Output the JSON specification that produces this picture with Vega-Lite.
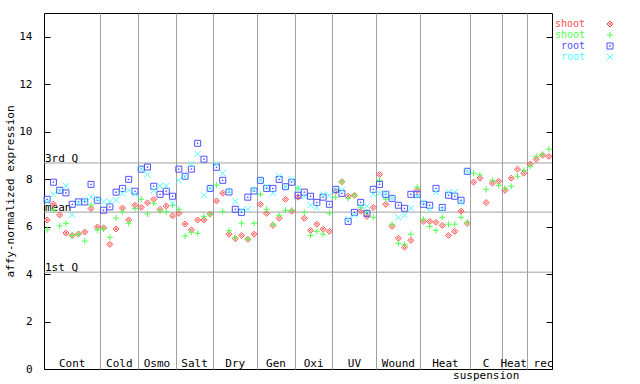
{
  "$schema": "https://vega.github.io/schema/vega-lite/v6.json",
  "width": 508,
  "height": 356,
  "autosize": "none",
  "padding": {"left": 44, "top": 13, "right": 88, "bottom": 15},
  "background": "white",
  "config": {
    "view": {"stroke": "#000", "strokeWidth": 1},
    "font": "DejaVu Sans Mono",
    "axis": {
      "labelFont": "DejaVu Sans Mono", "labelFontSize": 11, "labelColor": "#000",
      "titleFont": "DejaVu Sans Mono", "titleFontSize": 11, "titleFontWeight": "normal", "titleColor": "#000",
      "domainColor": "#000", "tickColor": "#000"
    },
    "legend": {"labelFont": "DejaVu Sans Mono", "labelFontSize": 10}
  },
  "datasets": {
    "stats": [
      {"stat": "3rd Q", "value": 8.68},
      {"stat": "mean", "value": 6.61},
      {"stat": "1st Q", "value": 4.08}
    ],
    "samples": [
      {"s": 1, "g": "Cont", "shoot_a": 6.28, "shoot_b": 5.87, "root_a": 7.15, "root_b": 7.05},
      {"s": 2, "g": "Cont", "shoot_a": 6.95, "shoot_b": 6.70, "root_a": 7.87, "root_b": 7.36},
      {"s": 3, "g": "Cont", "shoot_a": 6.49, "shoot_b": 6.03, "root_a": 7.53, "root_b": 7.50},
      {"s": 4, "g": "Cont", "shoot_a": 5.73, "shoot_b": 6.14, "root_a": 7.42, "root_b": 7.71},
      {"s": 5, "g": "Cont", "shoot_a": 5.63, "shoot_b": 5.63, "root_a": 6.94, "root_b": 6.49},
      {"s": 6, "g": "Cont", "shoot_a": 5.69, "shoot_b": 5.68, "root_a": 7.04, "root_b": 7.00},
      {"s": 7, "g": "Cont", "shoot_a": 5.77, "shoot_b": 5.39, "root_a": 7.04, "root_b": 7.12},
      {"s": 8, "g": "Cont", "shoot_a": 6.76, "shoot_b": 6.91, "root_a": 7.78, "root_b": 7.25},
      {"s": 9, "g": "Cont", "shoot_a": 5.98, "shoot_b": 5.86, "root_a": 7.11, "root_b": 7.15},
      {"s": 10, "g": "Cold", "shoot_a": 5.95, "shoot_b": 5.90, "root_a": 6.69, "root_b": 7.05},
      {"s": 11, "g": "Cold", "shoot_a": 5.25, "shoot_b": 5.55, "root_a": 6.83, "root_b": 7.05},
      {"s": 12, "g": "Cold", "shoot_a": 5.90, "shoot_b": 6.36, "root_a": 7.45, "root_b": 7.11},
      {"s": 13, "g": "Cold", "shoot_a": 6.78, "shoot_b": 6.62, "root_a": 7.61, "root_b": 7.40},
      {"s": 14, "g": "Cold", "shoot_a": 6.28, "shoot_b": 6.14, "root_a": 7.99, "root_b": 7.53},
      {"s": 15, "g": "Cold", "shoot_a": 6.90, "shoot_b": 6.76, "root_a": 7.49, "root_b": 7.36},
      {"s": 16, "g": "Osmo", "shoot_a": 6.81, "shoot_b": 7.15, "root_a": 8.42, "root_b": 8.42},
      {"s": 17, "g": "Osmo", "shoot_a": 7.00, "shoot_b": 6.53, "root_a": 8.51, "root_b": 8.20},
      {"s": 18, "g": "Osmo", "shoot_a": 7.15, "shoot_b": 6.98, "root_a": 7.70, "root_b": 7.53},
      {"s": 19, "g": "Osmo", "shoot_a": 6.73, "shoot_b": 6.66, "root_a": 7.36, "root_b": 7.71},
      {"s": 20, "g": "Osmo", "shoot_a": 6.87, "shoot_b": 6.62, "root_a": 7.49, "root_b": 7.71},
      {"s": 21, "g": "Osmo", "shoot_a": 6.45, "shoot_b": 6.90, "root_a": 7.28, "root_b": 6.98},
      {"s": 22, "g": "Salt", "shoot_a": 6.56, "shoot_b": 6.73, "root_a": 8.42, "root_b": 7.95},
      {"s": 23, "g": "Salt", "shoot_a": 6.11, "shoot_b": 5.60, "root_a": 8.12, "root_b": 8.10},
      {"s": 24, "g": "Salt", "shoot_a": 5.86, "shoot_b": 5.76, "root_a": 8.42, "root_b": 8.63},
      {"s": 25, "g": "Salt", "shoot_a": 6.28, "shoot_b": 5.72, "root_a": 9.51, "root_b": 9.06},
      {"s": 26, "g": "Salt", "shoot_a": 6.28, "shoot_b": 6.43, "root_a": 8.84, "root_b": 7.32},
      {"s": 27, "g": "Salt", "shoot_a": 6.53, "shoot_b": 6.52, "root_a": 7.61, "root_b": 7.61},
      {"s": 28, "g": "Dry", "shoot_a": 7.08, "shoot_b": 7.75, "root_a": 8.50, "root_b": 8.63},
      {"s": 29, "g": "Dry", "shoot_a": 7.41, "shoot_b": 6.64, "root_a": 7.95, "root_b": 8.25},
      {"s": 30, "g": "Dry", "shoot_a": 5.68, "shoot_b": 5.83, "root_a": 7.46, "root_b": 7.50},
      {"s": 31, "g": "Dry", "shoot_a": 5.49, "shoot_b": 5.53, "root_a": 6.73, "root_b": 7.07},
      {"s": 32, "g": "Dry", "shoot_a": 5.63, "shoot_b": 6.14, "root_a": 6.60, "root_b": 6.69},
      {"s": 33, "g": "Dry", "shoot_a": 5.47, "shoot_b": 5.47, "root_a": 7.24, "root_b": 6.73},
      {"s": 34, "g": "Dry", "shoot_a": 5.68, "shoot_b": 6.14, "root_a": 7.50, "root_b": 7.55},
      {"s": 35, "g": "Gen", "shoot_a": 6.94, "shoot_b": 7.36, "root_a": 7.95, "root_b": 7.95},
      {"s": 36, "g": "Gen", "shoot_a": 6.56, "shoot_b": 6.73, "root_a": 7.61, "root_b": 7.68},
      {"s": 37, "g": "Gen", "shoot_a": 6.05, "shoot_b": 6.10, "root_a": 7.61, "root_b": 7.40},
      {"s": 38, "g": "Gen", "shoot_a": 6.35, "shoot_b": 6.48, "root_a": 7.99, "root_b": 8.12},
      {"s": 39, "g": "Gen", "shoot_a": 7.15, "shoot_b": 6.69, "root_a": 7.68, "root_b": 7.68},
      {"s": 40, "g": "Gen", "shoot_a": 6.65, "shoot_b": 6.69, "root_a": 7.87, "root_b": 7.99},
      {"s": 41, "g": "Oxi", "shoot_a": 7.24, "shoot_b": 7.61, "root_a": 7.32, "root_b": 7.61},
      {"s": 42, "g": "Oxi", "shoot_a": 6.35, "shoot_b": 6.60, "root_a": 7.45, "root_b": 7.28},
      {"s": 43, "g": "Oxi", "shoot_a": 5.84, "shoot_b": 5.63, "root_a": 7.28, "root_b": 6.90},
      {"s": 44, "g": "Oxi", "shoot_a": 6.10, "shoot_b": 5.80, "root_a": 7.02, "root_b": 6.81},
      {"s": 45, "g": "Oxi", "shoot_a": 5.89, "shoot_b": 5.68, "root_a": 7.24, "root_b": 7.36},
      {"s": 46, "g": "Oxi", "shoot_a": 5.80, "shoot_b": 6.56, "root_a": 6.94, "root_b": 7.32},
      {"s": 47, "g": "UV", "shoot_a": 7.49, "shoot_b": 7.24, "root_a": 7.57, "root_b": 7.55},
      {"s": 48, "g": "UV", "shoot_a": 7.89, "shoot_b": 7.89, "root_a": 7.40, "root_b": 7.53},
      {"s": 49, "g": "UV", "shoot_a": 7.28, "shoot_b": 7.19, "root_a": 6.22, "root_b": 6.31},
      {"s": 50, "g": "UV", "shoot_a": 7.32, "shoot_b": 7.32, "root_a": 6.60, "root_b": 6.49},
      {"s": 51, "g": "UV", "shoot_a": 6.65, "shoot_b": 6.81, "root_a": 7.02, "root_b": 6.86},
      {"s": 52, "g": "UV", "shoot_a": 6.43, "shoot_b": 6.60, "root_a": 6.56, "root_b": 6.86},
      {"s": 53, "g": "UV", "shoot_a": 6.81, "shoot_b": 6.39, "root_a": 7.57, "root_b": 7.36},
      {"s": 54, "g": "Wound", "shoot_a": 8.20, "shoot_b": 7.95, "root_a": 7.78, "root_b": 7.40},
      {"s": 55, "g": "Wound", "shoot_a": 6.94, "shoot_b": 7.15, "root_a": 7.36, "root_b": 7.40},
      {"s": 56, "g": "Wound", "shoot_a": 6.01, "shoot_b": 6.10, "root_a": 7.19, "root_b": 7.20},
      {"s": 57, "g": "Wound", "shoot_a": 5.51, "shoot_b": 5.30, "root_a": 6.90, "root_b": 6.39},
      {"s": 58, "g": "Wound", "shoot_a": 5.13, "shoot_b": 5.25, "root_a": 6.77, "root_b": 6.48},
      {"s": 59, "g": "Wound", "shoot_a": 5.42, "shoot_b": 5.68, "root_a": 7.36, "root_b": 6.77},
      {"s": 60, "g": "Wound", "shoot_a": 7.53, "shoot_b": 7.66, "root_a": 7.36, "root_b": 7.28},
      {"s": 61, "g": "Heat", "shoot_a": 6.22, "shoot_b": 6.31, "root_a": 6.94, "root_b": 7.02},
      {"s": 62, "g": "Heat", "shoot_a": 6.22, "shoot_b": 6.01, "root_a": 6.90, "root_b": 6.73},
      {"s": 63, "g": "Heat", "shoot_a": 6.18, "shoot_b": 5.84, "root_a": 7.61, "root_b": 7.45},
      {"s": 64, "g": "Heat", "shoot_a": 6.05, "shoot_b": 6.39, "root_a": 6.81, "root_b": 6.73},
      {"s": 65, "g": "Heat", "shoot_a": 5.63, "shoot_b": 6.10, "root_a": 7.32, "root_b": 7.45},
      {"s": 66, "g": "Heat", "shoot_a": 5.80, "shoot_b": 6.10, "root_a": 7.28, "root_b": 7.45},
      {"s": 67, "g": "Heat", "shoot_a": 6.65, "shoot_b": 6.39, "root_a": 7.11, "root_b": 7.02},
      {"s": 68, "g": "Heat", "shoot_a": 6.14, "shoot_b": 6.18, "root_a": 8.33, "root_b": 8.33},
      {"s": 69, "g": "C\nsuspension", "shoot_a": 7.87, "shoot_b": 8.25},
      {"s": 70, "g": "C\nsuspension", "shoot_a": 8.04, "shoot_b": 8.18},
      {"s": 71, "g": "C\nsuspension", "shoot_a": 7.01, "shoot_b": 7.57},
      {"s": 72, "g": "C\nsuspension", "shoot_a": 7.83, "shoot_b": 7.95},
      {"s": 73, "g": "C\nsuspension", "shoot_a": 7.91, "shoot_b": 7.74},
      {"s": 74, "g": "Heat rec", "shoot_a": 7.53, "shoot_b": 7.61},
      {"s": 75, "g": "Heat rec", "shoot_a": 8.04, "shoot_b": 7.70},
      {"s": 76, "g": "Heat rec", "shoot_a": 8.42, "shoot_b": 8.12},
      {"s": 77, "g": "Heat rec", "shoot_a": 8.25, "shoot_b": 8.37},
      {"s": 78, "g": "Heat rec", "shoot_a": 8.63, "shoot_b": 8.54},
      {"s": 79, "g": "Heat rec", "shoot_a": 8.84, "shoot_b": 8.96},
      {"s": 80, "g": "Heat rec", "shoot_a": 9.01, "shoot_b": 9.05},
      {"s": 81, "g": "Heat rec", "shoot_a": 8.96, "shoot_b": 9.26}
    ]
  },
  "resolve": {"axis": {"y": "independent"}},
  "layer": [
    {
      "data": {"name": "stats"},
      "mark": {"type": "rule", "color": "#a0a0a0", "strokeWidth": 1},
      "encoding": {
        "y": {
          "field": "value", "type": "quantitative",
          "scale": {"domain": [0, 15], "nice": false, "zero": false},
          "axis": {
            "orient": "left", "values": [0, 2, 4, 6, 8, 10, 12, 14], "grid": false,
            "tickSize": -6, "labelPadding": 18, "domain": false,
            "title": "affy-normalized expression", "titlePadding": 3
          }
        }
      }
    },
    {
      "data": {"name": "stats"},
      "mark": {"type": "text", "align": "left", "baseline": "alphabetic", "dx": 1, "dy": -1, "fontSize": 11, "font": "DejaVu Sans Mono", "color": "#000"},
      "encoding": {
        "x": {"datum": 0.5, "type": "quantitative"},
        "y": {"field": "value", "type": "quantitative", "axis": null},
        "text": {"field": "stat"}
      }
    },
    {
      "data": {"name": "samples"},
      "transform": [
        {"fold": ["shoot_a", "shoot_b", "root_a", "root_b"], "as": ["series", "v"]},
        {"filter": "isValid(datum.v)"}
      ],
      "mark": {"type": "point", "filled": false, "strokeWidth": 1, "size": 36, "opacity": 1},
      "encoding": {
        "x": {
          "field": "s", "type": "quantitative",
          "scale": {"domain": [0.5, 81.5], "nice": false, "zero": false},
          "axis": {
            "values": [9.5, 15.5, 21.5, 27.5, 34.5, 40.5, 46.5, 53.5, 60.5, 68.5, 73.5, 77.5],
            "grid": true, "gridColor": "#a0a0a0", "gridOpacity": 1, "gridWidth": 1,
            "labels": false, "ticks": false, "domain": false, "title": null
          }
        },
        "y": {
          "field": "v", "type": "quantitative",
          "axis": {"orient": "right", "values": [0, 2, 4, 6, 8, 10, 12, 14], "labels": false, "tickSize": -6, "domain": false, "grid": false, "title": null}
        },
        "color": {
          "field": "series", "type": "nominal",
          "scale": {"domain": ["shoot_a", "shoot_b", "root_a", "root_b"], "range": ["#ff5050", "#50ff50", "#5050ff", "#50ffff"]},
          "legend": {
            "orient": "none", "legendX": 561, "legendY": 6, "title": null, "padding": 0,
            "rowPadding": 1, "symbolSize": 36, "symbolStrokeWidth": 1,
            "labelExpr": "split(datum.label, '_')[0]",
            "labelAlign": "right", "labelOffset": -30,
            "labelColor": {"expr": "datum.value == 'shoot_a' ? '#ff5050' : datum.value == 'shoot_b' ? '#50ff50' : datum.value == 'root_a' ? '#5050ff' : '#50ffff'"},
            "symbolStrokeColor": {"expr": "datum.value == 'shoot_a' ? '#ff5050' : datum.value == 'shoot_b' ? '#50ff50' : datum.value == 'root_a' ? '#5050ff' : '#50ffff'"}
          }
        },
        "shape": {
          "field": "series", "type": "nominal",
          "scale": {"domain": ["shoot_a", "shoot_b", "root_a", "root_b"], "range": ["M0,-1L1,0L0,1L-1,0Z M0,-0.4L0.4,0L0,0.4L-0.4,0Z", "M-1,0L1,0M0,-1L0,1", "M-1,-1L1,-1L1,1L-1,1Z M-0.12,-0.12L0.12,-0.12L0.12,0.12L-0.12,0.12Z", "M-1,-1L1,1M-1,1L1,-1"]},
          "legend": {
            "orient": "none", "legendX": 561, "legendY": 6, "title": null, "padding": 0,
            "rowPadding": 1, "symbolSize": 36, "symbolStrokeWidth": 1,
            "labelExpr": "split(datum.label, '_')[0]",
            "labelAlign": "right", "labelOffset": -30,
            "labelColor": {"expr": "datum.value == 'shoot_a' ? '#ff5050' : datum.value == 'shoot_b' ? '#50ff50' : datum.value == 'root_a' ? '#5050ff' : '#50ffff'"},
            "symbolStrokeColor": {"expr": "datum.value == 'shoot_a' ? '#ff5050' : datum.value == 'shoot_b' ? '#50ff50' : datum.value == 'root_a' ? '#5050ff' : '#50ffff'"}
          }
        }
      }
    },
    {
      "data": {"name": "samples"},
      "transform": [{"aggregate": [{"op": "mean", "field": "s", "as": "mid"}], "groupby": ["g"]}],
      "mark": {"type": "text", "align": "center", "baseline": "alphabetic", "dy": -2, "fontSize": 11, "font": "DejaVu Sans Mono", "color": "#000", "lineBreak": "\n", "lineHeight": 12},
      "encoding": {
        "x": {"field": "mid", "type": "quantitative"},
        "y": {"datum": 0, "type": "quantitative", "axis": null},
        "text": {"field": "g"}
      }
    }
  ]
}
